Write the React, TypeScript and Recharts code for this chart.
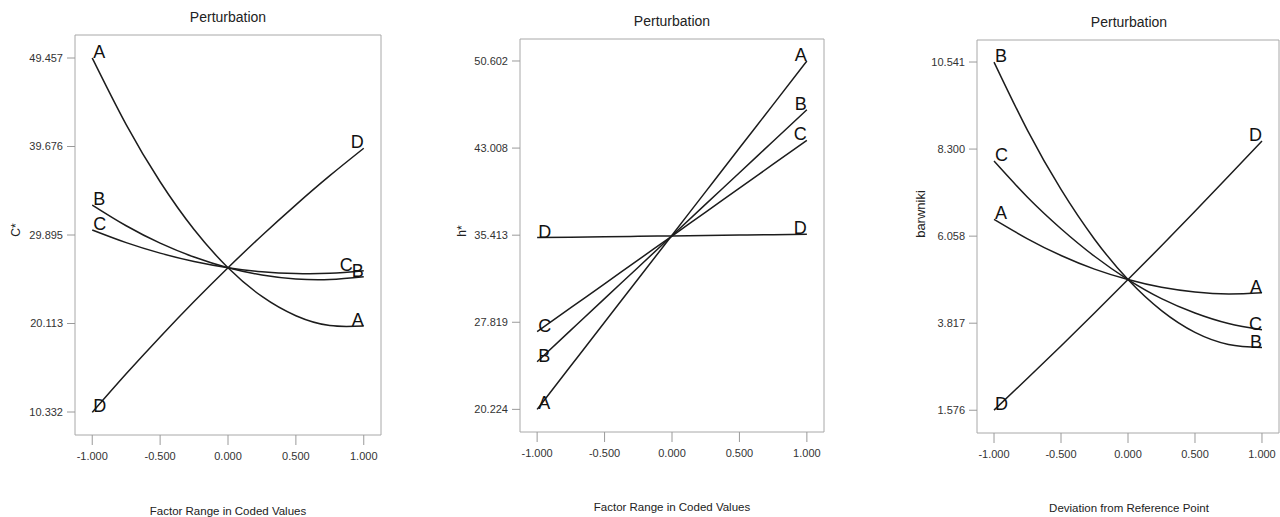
import { LineChart, Line, XAxis, YAxis, ReferenceArea, LabelList } from 'recharts';

// coded factor levels shared by all three plots
const levels = [-1, -0.75, -0.5, -0.25, 0, 0.25, 0.5, 0.75, 1];
const xTicks = [-1, -0.5, 0, 0.5, 1];

// C* panel
const cStarA = [49.46, 42.1, 35.78, 30.5, 26.28, 23.1, 20.97, 19.88, 19.84];
const cStarB = [33.21, 30.92, 29.0, 27.46, 26.28, 25.48, 25.04, 24.98, 25.29];
const cStarC = [30.45, 29.05, 27.89, 26.96, 26.28, 25.84, 25.64, 25.67, 25.95];
const cStarD = [10.29, 14.55, 18.63, 22.54, 26.28, 29.84, 33.23, 36.45, 39.48];
const cStarTicks = [10.332, 20.113, 29.895, 39.676, 49.457];

// h* panel
const hStarA = [20.22, 24.02, 27.82, 31.61, 35.41, 39.21, 43.01, 46.8, 50.6];
const hStarB = [24.38, 27.13, 29.88, 32.62, 35.37, 38.12, 40.86, 43.61, 46.35];
const hStarC = [27.0, 29.09, 31.17, 33.26, 35.34, 37.43, 39.51, 41.6, 43.68];
const hStarD = [35.2, 35.24, 35.28, 35.31, 35.35, 35.39, 35.43, 35.46, 35.5];
const hStarTicks = [20.224, 27.819, 35.413, 43.008, 50.602];

// barwniki panel
const barwA = [6.49, 5.99, 5.56, 5.21, 4.94, 4.74, 4.62, 4.57, 4.6];
const barwB = [10.54, 8.78, 7.26, 5.98, 4.94, 4.14, 3.58, 3.27, 3.19];
const barwC = [7.99, 7.06, 6.25, 5.54, 4.94, 4.45, 4.08, 3.81, 3.65];
const barwD = [1.58, 2.4, 3.23, 4.08, 4.94, 5.81, 6.7, 7.6, 8.51];
const barwTicks = [1.576, 3.817, 6.058, 8.3, 10.541];

const factors = ['A', 'B', 'C', 'D'];

const rows = (a: number[], b: number[], c: number[], d: number[]) =>
  levels.map((x, i) => ({ x, A: a[i], B: b[i], C: c[i], D: d[i] }));

const FONT = '"Liberation Sans", Arial, sans-serif';
const X_DOMAIN: [number, number] = [-1.127, 1.127];

function endLabel(name: string, rightShift: number) {
  return (props: any) => {
    const { x, y, index } = props;
    if (index === 0) {
      return (
        <text x={x + 1} y={y} fontSize={18} fill="#111" fontFamily={FONT} textAnchor="start">
          {name}
        </text>
      );
    }
    if (index === levels.length - 1) {
      return (
        <text x={x + rightShift} y={y} fontSize={18} fill="#111" fontFamily={FONT} textAnchor="end">
          {name}
        </text>
      );
    }
    return null;
  };
}

interface PanelProps {
  data: any[];
  yTicks: number[];
  yDomain: [number, number];
  left: number;
  width: number;
  axisWidth: number;
  margin: { top: number; right: number; bottom: number; left: number };
  shifts?: Record<string, number>;
}

function Panel({ data, yTicks, yDomain, left, width, axisWidth, margin, shifts = {} }: PanelProps) {
  return (
    <div style={{ position: 'absolute', left, top: 0 }}>
      <LineChart width={width} height={517} data={data} margin={margin}>
        <XAxis
          dataKey="x"
          type="number"
          domain={X_DOMAIN}
          allowDataOverflow
          ticks={xTicks}
          interval={0}
          tickFormatter={(v: number) => v.toFixed(3)}
          axisLine={false}
          tickLine={{ stroke: '#9a9a9a' }}
          tickSize={10}
          tickMargin={7}
          tick={{ fontSize: 11, fill: '#333', fontFamily: FONT }}
          height={30}
        />
        <YAxis
          type="number"
          domain={yDomain}
          allowDataOverflow
          ticks={yTicks}
          interval={0}
          tickFormatter={(v: number) => v.toFixed(3)}
          axisLine={false}
          tickLine={{ stroke: '#9a9a9a' }}
          tickSize={8}
          tickMargin={4}
          tick={{ fontSize: 11, fill: '#333', fontFamily: FONT }}
          width={axisWidth}
        />
        <ReferenceArea
          x1={X_DOMAIN[0]}
          x2={X_DOMAIN[1]}
          y1={yDomain[0]}
          y2={yDomain[1]}
          fill="none"
          fillOpacity={0}
          stroke="#a8a8a8"
          strokeWidth={1}
        />
        {factors.map((f) => (
          <Line
            key={f}
            dataKey={f}
            type="natural"
            stroke="#1c1c1c"
            strokeWidth={1.5}
            dot={false}
            isAnimationActive={false}
          >
            <LabelList dataKey={f} content={endLabel(f, shifts[f] ?? 0)} />
          </Line>
        ))}
      </LineChart>
    </div>
  );
}

export default function App() {
  return (
    <div style={{ position: 'absolute', left: 0, top: 0, width: 1280, height: 517, background: '#fff', fontFamily: FONT }}>
      <Panel
        data={rows(cStarA, cStarB, cStarC, cStarD)}
        yTicks={cStarTicks}
        yDomain={[7.79, 52.0]}
        left={0}
        width={400}
        axisWidth={75}
        margin={{ top: 35, right: 19, bottom: 52, left: 0 }}
        shifts={{ C: -11 }}
      />
      <Panel
        data={rows(hStarA, hStarB, hStarC, hStarD)}
        yTicks={hStarTicks}
        yDomain={[18.25, 52.52]}
        left={440}
        width={400}
        axisWidth={80}
        margin={{ top: 39, right: 16, bottom: 55, left: 0 }}
      />
      <Panel
        data={rows(barwA, barwB, barwC, barwD)}
        yTicks={barwTicks}
        yDomain={[0.99, 11.108]}
        left={897}
        width={383}
        axisWidth={80}
        margin={{ top: 40, right: 1, bottom: 54, left: 0 }}
      />
      <svg width={1280} height={517} style={{ position: 'absolute', left: 0, top: 0, pointerEvents: 'none' }}>
        <g fontFamily={FONT} fill="#222">
          <text x={228} y={22} fontSize={14} textAnchor="middle">Perturbation</text>
          <text x={672} y={26} fontSize={14} textAnchor="middle">Perturbation</text>
          <text x={1129} y={27} fontSize={14} textAnchor="middle">Perturbation</text>

          <text x={228} y={515} fontSize={11.5} textAnchor="middle">Factor Range in Coded Values</text>
          <text x={672} y={511} fontSize={11.5} textAnchor="middle">Factor Range in Coded Values</text>
          <text x={1129} y={512} fontSize={11.5} textAnchor="middle">Deviation from Reference Point</text>

          <text x={16} y={230} fontSize={12} textAnchor="middle" dominantBaseline="central" transform="rotate(-90 16 230)">C*</text>
          <text x={462} y={231} fontSize={12} textAnchor="middle" dominantBaseline="central" transform="rotate(-90 462 231)">h*</text>
          <text x={920} y={214} fontSize={13} textAnchor="middle" dominantBaseline="central" transform="rotate(-90 920 214)">barwniki</text>
        </g>
      </svg>
    </div>
  );
}
